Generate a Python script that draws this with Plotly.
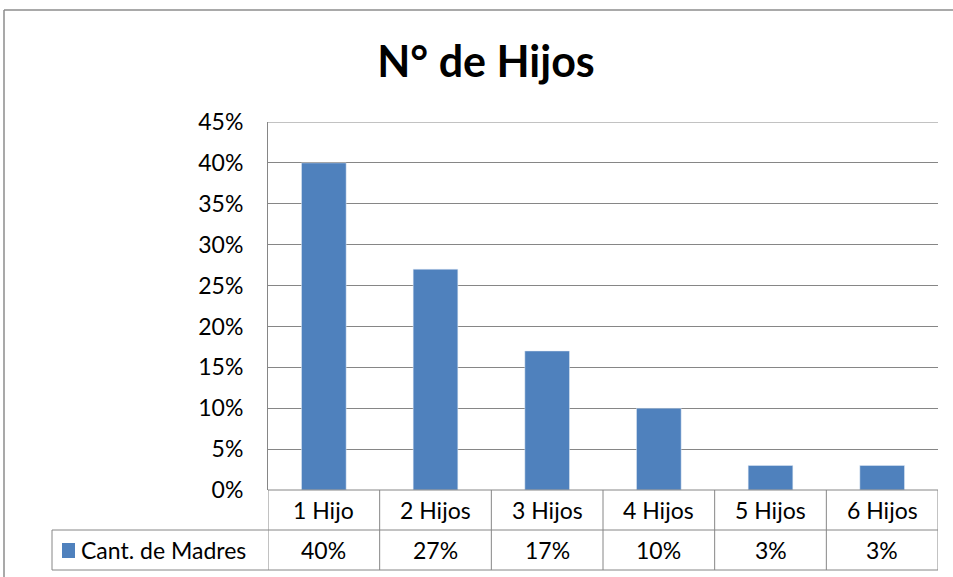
import plotly.graph_objects as go

categorias = ["1 Hijo", "2 Hijos", "3 Hijos", "4 Hijos", "5 Hijos", "6 Hijos"]
madres = [0.40, 0.27, 0.17, 0.10, 0.03, 0.03]
serie = "Cant. de Madres"
titulo = "N° de Hijos"
y_max = 0.45

AZUL = "#4F81BD"
GRIS = "#868686"
FUENTE = "Lato, Carlito, Calibri, sans-serif"
TAM = 23

W, H = 953, 577
L, R, T, B = 268, 15, 122, 87
ph = H - T - B
pw = W - L - R

def py(px):
    # pixel fila -> coordenada paper vertical
    return (H - B - px) / ph

def px_(x):
    return (x - L) / pw

fig = go.Figure()
fig.add_trace(go.Bar(
    x=list(range(len(categorias))),
    y=madres,
    name=serie,
    marker_color=AZUL,
    width=0.4,
    showlegend=False
))

# tabla de datos bajo el eje
fila1 = py(530)
fila2 = py(570)
izq = px_(52)
n = len(categorias)
lin = dict(color=GRIS, width=1)
for i in range(n + 1):
    fig.add_shape(type="line", xref="x", yref="paper", x0=i - 0.5, x1=i - 0.5,
                  y0=0, y1=fila2, line=lin)
fig.add_shape(type="line", xref="paper", yref="paper", x0=izq, x1=izq,
              y0=fila1, y1=fila2, line=lin)
fig.add_shape(type="line", xref="paper", yref="paper", x0=izq, x1=1,
              y0=fila1, y1=fila1, line=lin)
fig.add_shape(type="line", xref="paper", yref="paper", x0=izq, x1=1,
              y0=fila2, y1=fila2, line=lin)
fig.add_shape(type="line", xref="paper", yref="paper", x0=0, x1=1,
              y0=0, y1=0, line=lin)
# línea de cuadrícula superior (45%)
fig.add_shape(type="line", xref="paper", yref="y", x0=0, x1=1,
              y0=y_max, y1=y_max, line=lin)

for i, (c, v) in enumerate(zip(categorias, madres)):
    fig.add_annotation(x=i, y=fila1 / 2, xref="x", yref="paper", text=c,
                       xanchor="center", yanchor="middle", showarrow=False,
                       font=dict(size=TAM, color="black", family=FUENTE))
    fig.add_annotation(x=i, y=(fila1 + fila2) / 2, xref="x", yref="paper",
                       text=f"{v:.0%}", xanchor="center", yanchor="middle",
                       showarrow=False,
                       font=dict(size=TAM, color="black", family=FUENTE))

# clave de la serie en la tabla
fig.add_shape(type="rect", xref="paper", yref="paper", x0=px_(62), x1=px_(75),
              y0=py(543), y1=py(558), fillcolor=AZUL, line=dict(width=0))
fig.add_annotation(x=px_(79), y=(fila1 + fila2) / 2, xref="paper", yref="paper",
                   text=serie, xanchor="left", yanchor="middle", showarrow=False,
                   font=dict(size=TAM, color="black", family=FUENTE))

# marco del gráfico
marco = dict(color="#8C8C8C", width=1.5)
fig.add_shape(type="line", xref="paper", yref="paper", x0=px_(4), x1=px_(4),
              y0=py(10), y1=py(600), line=marco)
fig.add_shape(type="line", xref="paper", yref="paper", x0=px_(4), x1=px_(960),
              y0=py(10), y1=py(10), line=marco)

fig.update_layout(
    width=W, height=H,
    margin=dict(l=L, r=R, t=T, b=B, autoexpand=False),
    paper_bgcolor="white", plot_bgcolor="white",
    title=dict(text=f"<b>{titulo}</b>", x=486 / W, xanchor="center",
               y=1 - 62 / H, yanchor="middle",
               font=dict(size=43, color="black", family=FUENTE)),
    font=dict(family=FUENTE, size=TAM, color="black"),
    bargap=0.6,
    showlegend=False
)
fig.update_xaxes(range=[-0.5, n - 0.5], showticklabels=False, showgrid=False,
                 zeroline=False, showline=False, fixedrange=True)
fig.update_yaxes(range=[0, y_max], dtick=0.05, tickformat=".0%", showgrid=True,
                 gridcolor=GRIS, gridwidth=1, showline=True, linecolor=GRIS,
                 zeroline=False, ticks="", ticklabelstandoff=19,
                 tickfont=dict(size=TAM, family=FUENTE, color="black"))

fig.write_html("out.html", config={"displayModeBar": False},
               post_script="document.body.style.margin='0';")
